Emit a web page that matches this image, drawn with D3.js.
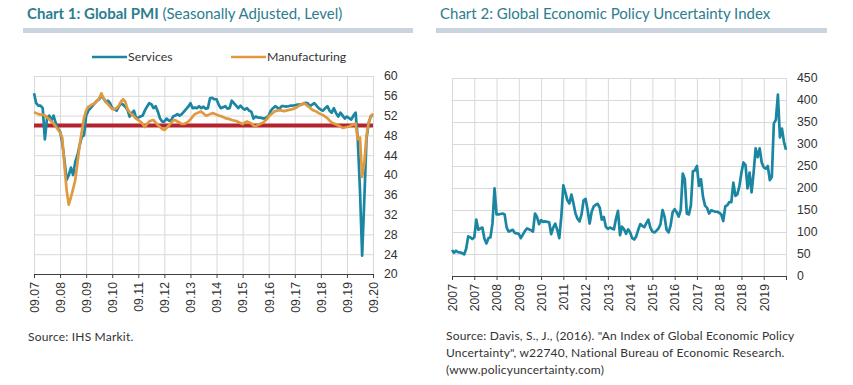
<!DOCTYPE html>
<html>
<head>
<meta charset="utf-8">
<title>Global PMI and Economic Policy Uncertainty</title>
<script src="https://d3js.org/d3.v7.min.js"></script>
<style>
  body { margin: 0; background: #fff; }
  svg { font-family: Lato, "Open Sans", sans-serif; }
  .grid line { stroke: #d9d9d9; stroke-width: 1; }
  .grid path { display: none; }
  .xaxis path, .xaxis line { stroke: #404040; }
  .xaxis text, .yaxis text { fill: #333; font-size: 12.3px; }
  .yaxis path, .yaxis line { display: none; }
  .title { fill: #2c7d8e; font-size: 15px; }
  .src { fill: #333; font-size: 12px; letter-spacing: 0.2px; }
</style>
</head>
<body>
<div id="chart"></div>
<script>
// Chart 1: monthly, 09.2007 .. 09.2020
var pmiTicks = ["09.07","09.08","09.09","09.10","09.11","09.12","09.13","09.14","09.15","09.16","09.17","09.18","09.19","09.20"];
var services = [
  56.5,54.5,54,54,53.5,47.2,51.5,52,51,52,50.5,49.4,
  48.8,46.5,43,39,40,41.5,40,42.7,44,46,47.7,48,
  52,53,53.5,54,54.5,55,55.3,56,55.5,54.8,55,54.5,
  53.5,53.3,53,53.8,54.5,54.2,53.8,53.2,51.8,52.5,53,51.5,
  51.6,51.8,52,53,53.8,54.5,54.3,53.5,53.9,52.8,51.4,50.8,
  50.8,51.4,51,51,51.8,52,52.3,52,52.3,52.8,53.3,53.8,
  54.5,53.5,53.6,53.5,53.9,53.5,53.8,53.4,53.5,55.5,55.6,55.3,
  55.3,54.2,53.5,53.7,53.9,53.4,53.5,55,54.5,54,53.5,54,
  53.5,53.2,53.5,53,52.8,51.4,51.8,51.6,51.6,51.5,51.4,51.6,
  52,53,53.5,53.9,53.6,53.4,53.9,53.9,53.8,53.9,54,54,
  54.1,54.2,54.2,54.2,54.4,54.6,54.5,53.9,54.2,54.5,54,53.5,
  53.2,53,53.5,53.9,53,52.6,53.5,52.5,51.8,52.6,52,51.4,
  51.8,51.5,51.2,52,52.6,47.1,37,23.7,35,47.3,50.5,51.9,
  52
];
var manufacturing = [
  52.7,52.5,52.3,52.2,52.2,52,51.6,51.3,50.8,50.4,49.8,49.2,
  48.6,47.5,42,37,34,35.5,37.2,39,42.5,46,48.8,51.5,
  53,53.8,54,54.3,54.5,55,55.5,56.5,55.5,54.8,54.3,53.8,
  53.3,53.3,53.5,54,54.8,55.3,54.8,53.3,52.7,52.2,51.8,51.4,
  51.1,50.8,50.3,49.7,50.3,50.8,51,51.1,50.6,50.1,49.7,49.3,
  49.1,49.5,50,50.5,51,51.1,50.8,50.6,50.3,50.3,50.5,50.8,
  51.2,51.8,52.3,52.5,52.7,52.8,52.4,52,52.1,52.3,52.5,52.4,
  52.2,52,51.9,51.7,51.5,51.4,51.3,51.1,51,50.9,50.7,50.5,
  50.3,50.6,50.8,50.6,50.4,50,49.8,50.1,50.3,50.5,50.8,51.2,
  51.8,52.2,52.6,52.9,53,53.1,53,52.9,53,53.1,53.2,53.3,
  53.5,53.7,54,54.2,54.5,54.3,53.9,53.6,53.2,53,52.8,52.5,
  52.3,52.1,51.8,51.5,51,50.6,50.4,50.2,50,49.8,49.5,49.6,
  49.7,49.8,50,50.2,50.4,47.2,47.6,39.6,42.4,47.9,50.6,51.8,
  52.4
];
var pmiYTicks = [20,24,28,32,36,40,44,48,52,56,60];

// Chart 2: monthly, 01.2007 .. 10.2020, axis labelled every 11 months
var gepuTicks = ["2007","2007","2008","2009","2010","2011","2012","2013","2014","2015","2016","2017","2018","2018","2019",""];
var gepu = [
  59,53,57.5,54,53.5,52,49,62,90,88,84,88,
  128,105,108,110,85,74,86,88,120,199,140,140,
  141,142,140,110,101,103,105,98,97,96,86,94,
  102,108,106,104,101,142,134,118,127,123,124,123,
  122,95,110,119,105,86,135,206,190,172,165,185,
  165,142,130,124,140,172,175,150,119,146,158,162,
  164,155,128,134,112,107,110,108,106,130,148,93,
  112,106,96,106,99,86,83,90,105,118,114,111,
  120,128,110,101,99,103,108,118,150,135,105,99,
  115,145,152,145,135,150,233,220,142,140,160,238,
  240,250,205,220,180,160,155,142,149,148,146,146,
  144,140,125,158,161,168,168,212,182,186,205,235,
  258,252,199,235,190,235,290,270,290,258,247,244,
  250,218,225,347,355,412,315,335,305,287
];
var gepuYTicks = [0,50,100,150,200,250,300,350,400,450];

var W = 853, H = 385;
var svg = d3.select("#chart").append("svg")
  .attr("width", W).attr("height", H);

function header(x0, x1, label, rest, bold) {
  var t = svg.append("text").attr("class", "title")
    .attr("x", x0 + 4).attr("y", 19);
  t.append("tspan").attr("font-weight", bold ? 700 : 400).text(label);
  if (rest) t.append("tspan").text(rest);
  svg.append("rect").attr("x", x0).attr("y", 28)
    .attr("width", x1 - x0).attr("height", 5).attr("fill", "#c9d4df");
}

function panel(o) {
  var g = svg.append("g");
  var x = d3.scaleLinear().domain([0, o.nx]).range([o.left, o.right]);
  var y = d3.scaleLinear().domain(o.ydom).range([o.bottom, o.top]);
  var tickIdx = o.ticks.map(function(d, i) { return i * o.step; });

  g.append("g").attr("class", "grid")
    .attr("transform", "translate(0," + o.bottom + ")")
    .call(d3.axisBottom(x).tickValues(tickIdx).tickSize(o.top - o.bottom).tickFormat(""));
  g.append("g").attr("class", "grid")
    .attr("transform", "translate(" + o.left + ",0)")
    .call(d3.axisRight(y).tickValues(o.yticks).tickSize(o.right - o.left).tickFormat(""));

  var xa = g.append("g").attr("class", "xaxis")
    .attr("transform", "translate(0," + o.bottom + ")")
    .call(d3.axisBottom(x).tickValues(tickIdx).tickSize(4).tickSizeOuter(0)
      .tickFormat(function(d, i) { return o.ticks[i]; }));
  xa.selectAll("text")
    .attr("transform", "rotate(-90)")
    .attr("x", -8).attr("y", 0).attr("dy", "0.35em")
    .style("text-anchor", "end");

  g.append("g").attr("class", "yaxis")
    .attr("transform", "translate(" + (o.right + 11) + ",0)")
    .call(d3.axisRight(y).tickValues(o.yticks).tickSize(0).tickPadding(0));

  return {g: g, x: x, y: y};
}

// ---- chart 1
header(23, 413, "Chart 1: Global PMI", " (Seasonally Adjusted, Level)", true);
var p1 = panel({left: 34, right: 373, top: 76, bottom: 274, nx: 156, step: 12,
  ydom: [20, 60], yticks: pmiYTicks, ticks: pmiTicks});

p1.g.append("line")
  .attr("x1", p1.x(0)).attr("x2", p1.x(156))
  .attr("y1", p1.y(50)).attr("y2", p1.y(50))
  .attr("stroke", "#b3242f").attr("stroke-width", 4);

var line1 = d3.line().x(function(d, i) { return p1.x(i); }).y(function(d) { return p1.y(d); });
p1.g.append("path").datum(services).attr("d", line1)
  .attr("fill", "none").attr("stroke", "#1a86a2").attr("stroke-width", 2.7).attr("stroke-linejoin", "round");
p1.g.append("path").datum(manufacturing).attr("d", line1)
  .attr("fill", "none").attr("stroke", "#e0993f").attr("stroke-width", 2.7).attr("stroke-linejoin", "round");

var legend = [{name: "Services", c: "#1a86a2", x: 92}, {name: "Manufacturing", c: "#e0993f", x: 231}];
legend.forEach(function(d) {
  svg.append("line").attr("x1", d.x).attr("x2", d.x + 35).attr("y1", 57).attr("y2", 57)
    .attr("stroke", d.c).attr("stroke-width", 2.5);
  svg.append("text").attr("x", d.x + 36).attr("y", 61).attr("font-size", 12.3)
    .attr("fill", "#333").text(d.name);
});

svg.append("text").attr("class", "src").attr("x", 28).attr("y", 341).text("Source: IHS Markit.");

// ---- chart 2
header(436, 827, "Chart 2: Global Economic Policy Uncertainty Index", null, false);
var p2 = panel({left: 452, right: 786, top: 78, bottom: 276, nx: 165, step: 11,
  ydom: [0, 450], yticks: gepuYTicks, ticks: gepuTicks});

var line2 = d3.line().x(function(d, i) { return p2.x(i); }).y(function(d) { return p2.y(d); });
p2.g.append("path").datum(gepu).attr("d", line2)
  .attr("fill", "none").attr("stroke", "#1a86a2").attr("stroke-width", 2.7).attr("stroke-linejoin", "round");

var src2 = ["Source: Davis, S., J., (2016). \"An Index of Global Economic Policy",
  "Uncertainty\", w22740, National Bureau of Economic Research.",
  "(www.policyuncertainty.com)"];
src2.forEach(function(s, i) {
  svg.append("text").attr("class", "src").attr("x", 446).attr("y", 340 + i * 17).text(s);
});
</script>
</body>
</html>
